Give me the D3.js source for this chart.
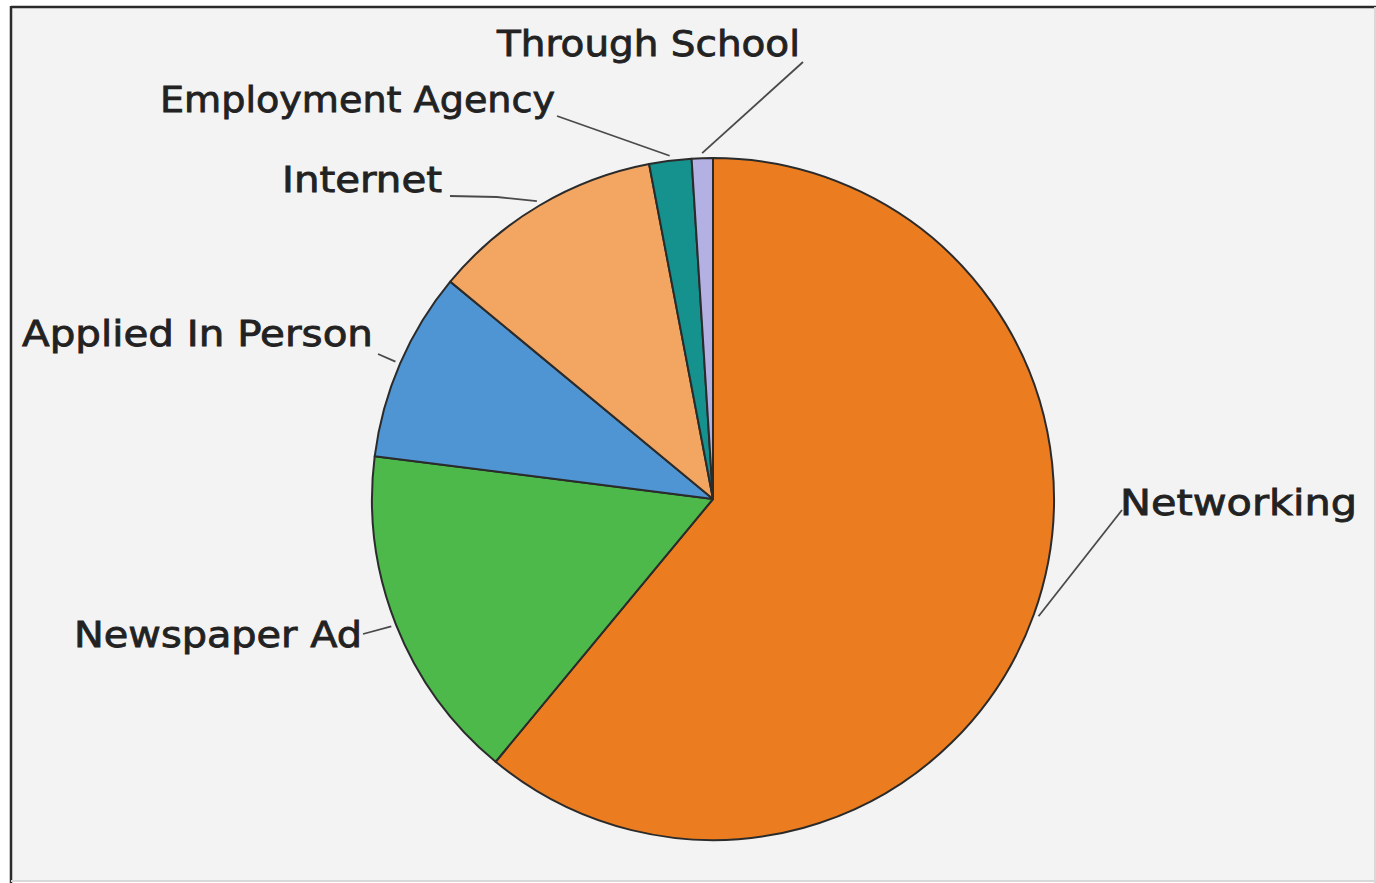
<!DOCTYPE html>
<html>
<head>
<meta charset="utf-8">
<script src="https://cdn.jsdelivr.net/npm/d3@7"></script>
<style>
  html, body { margin: 0; padding: 0; background: #ffffff; }
  svg { display: block; }
</style>
</head>
<body>
<svg id="chart" width="1376" height="883"></svg>
<script>
// How people found their job
const categories = ["Networking", "Newspaper Ad", "Applied In Person", "Internet", "Employment Agency", "Through School"];
const shares = [61, 16, 9, 11, 2, 1];
const sliceColors = ["#eb7d20", "#4cb94a", "#4f95d3", "#f3a661", "#15918e", "#b3b1e3"];

// Label placement: text anchor (x, baseline y), rendered width, and the point where the leader line meets the text
const labelLayout = {
  "Networking":        { x: 1120, y: 515, w: 237, anchor: "start", lx: 1122, ly: 510, bend: null },
  "Newspaper Ad":      { x: 74,   y: 647, w: 288, anchor: "start", lx: 363,  ly: 634, bend: null },
  "Applied In Person": { x: 22,   y: 346, w: 351, anchor: "start", lx: 378,  ly: 354, bend: null },
  "Internet":          { x: 282,  y: 192, w: 160, anchor: "start", lx: 450,  ly: 196, bend: [497, 197] },
  "Employment Agency": { x: 160,  y: 112, w: 395, anchor: "start", lx: 557,  ly: 116, bend: null },
  "Through School":    { x: 497,  y: 56,  w: 303, anchor: "start", lx: 803,  ly: 62,  bend: null }
};

const svg = d3.select("#chart");
const W = 1376, H = 883;

// Panel background with a sunken frame
svg.append("rect").attr("x", 11).attr("y", 7).attr("width", W - 12).attr("height", H - 9)
  .attr("fill", "#f3f3f3");
svg.append("line").attr("x1", 11).attr("y1", 7).attr("x2", W).attr("y2", 7)
  .attr("stroke", "#2a2a2a").attr("stroke-width", 2.5);
svg.append("line").attr("x1", 11).attr("y1", 6).attr("x2", 11).attr("y2", H)
  .attr("stroke", "#2a2a2a").attr("stroke-width", 2.5);
svg.append("line").attr("x1", 11).attr("y1", H - 2).attr("x2", W).attr("y2", H - 2)
  .attr("stroke", "#d8d8d8").attr("stroke-width", 2);
svg.append("line").attr("x1", W - 1).attr("y1", 7).attr("x2", W - 1).attr("y2", H)
  .attr("stroke", "#d8d8d8").attr("stroke-width", 2);

const cx = 713, cy = 499, radius = 341;

const pie = d3.pie().sort(null).value(d => d.value).startAngle(0).endAngle(2 * Math.PI);
const data = categories.map((c, i) => ({ name: c, value: shares[i], color: sliceColors[i] }));
const arcs = pie(data);

const arc = d3.arc().innerRadius(0).outerRadius(radius);
const leaderArc = d3.arc().innerRadius(radius + 5).outerRadius(radius + 5);

const g = svg.append("g").attr("transform", `translate(${cx},${cy})`);

g.selectAll("path.slice")
  .data(arcs)
  .join("path")
  .attr("class", "slice")
  .attr("d", arc)
  .attr("fill", d => d.data.color)
  .attr("stroke", "#2b2b2b")
  .attr("stroke-width", 2)
  .attr("stroke-linejoin", "round");

// Leader lines from each slice's mid-angle to its label
const line = d3.line();
svg.selectAll("path.leader")
  .data(arcs)
  .join("path")
  .attr("class", "leader")
  .attr("d", d => {
    const L = labelLayout[d.data.name];
    const [px, py] = leaderArc.centroid(d);
    const pts = [[cx + px, cy + py]];
    if (L.bend) pts.push(L.bend);
    pts.push([L.lx, L.ly]);
    return line(pts);
  })
  .attr("fill", "none")
  .attr("stroke", "#4a4a4a")
  .attr("stroke-width", 1.8);

svg.selectAll("text.label")
  .data(arcs)
  .join("text")
  .attr("class", "label")
  .attr("x", d => labelLayout[d.data.name].x)
  .attr("y", d => labelLayout[d.data.name].y)
  .attr("text-anchor", d => labelLayout[d.data.name].anchor)
  .attr("textLength", d => labelLayout[d.data.name].w)
  .attr("lengthAdjust", "spacingAndGlyphs")
  .attr("font-family", "'DejaVu Sans', Verdana, sans-serif")
  .attr("font-size", 35)
  .attr("fill", "#222222")
  .attr("stroke", "#222222")
  .attr("stroke-width", 0.8)
  .text(d => d.data.name);
</script>
</body>
</html>
